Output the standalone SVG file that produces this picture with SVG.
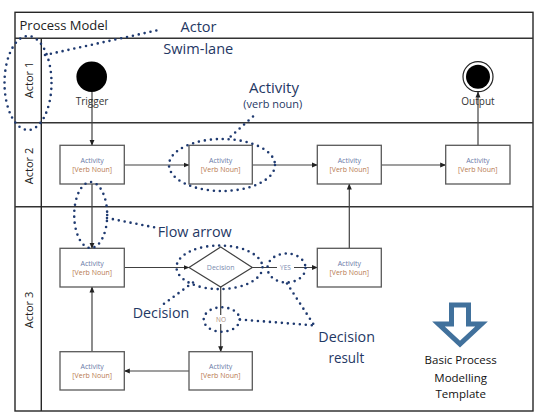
<svg xmlns="http://www.w3.org/2000/svg" width="543" height="419" viewBox="0 0 543 419">
<defs>
<style>
.frame{fill:none;stroke:#262626;stroke-width:1.4}
.lane{fill:none;stroke:#333;stroke-width:1.6}
.box{fill:#fff;stroke:#595959;stroke-width:1.3}
.conn{fill:none;stroke:#404040;stroke-width:1.2}
.dot{fill:none;stroke:#1F3A70;stroke-width:2.6;stroke-linecap:round;stroke-dasharray:0 6}
.t1{font-family:"Open Sans","Noto Sans",sans-serif;font-size:7px;fill:#6A7AA8;text-anchor:middle}
.t2{font-family:"Open Sans","Noto Sans",sans-serif;font-size:7px;fill:#B87A50;text-anchor:middle}
.ann{font-family:"Open Sans","Noto Sans",sans-serif;font-size:15px;fill:#1F3864}
.lbl{font-family:"Open Sans","Noto Sans",sans-serif;font-size:10px;fill:#333;text-anchor:middle}
.lanet{font-family:"Open Sans","Noto Sans",sans-serif;font-size:11px;fill:#222;text-anchor:middle}
</style>
<marker id="ah" markerWidth="6" markerHeight="6" refX="5.5" refY="3" orient="auto" markerUnits="userSpaceOnUse">
<path d="M0,0.5 L6,3 L0,5.5 Z" fill="#222"/>
</marker>
</defs>
<rect width="543" height="419" fill="#fff"/>
<g id="pool">
<rect class="frame" x="15" y="12.3" width="518" height="398.7"/>
<line class="lane" x1="15" y1="38.3" x2="533" y2="38.3"/>
<line class="lane" x1="15" y1="122.7" x2="533" y2="122.7"/>
<line class="lane" x1="15" y1="206.7" x2="533" y2="206.7"/>
<line class="frame" x1="41.3" y1="38.3" x2="41.3" y2="411"/>
<text x="19.5" y="29.8" style="font-family:'Open Sans','Noto Sans',sans-serif;font-size:13px;fill:#222">Process Model</text>
<text class="lanet" transform="translate(32.5,80) rotate(-90)">Actor 1</text>
<text class="lanet" transform="translate(32.5,166) rotate(-90)">Actor 2</text>
<text class="lanet" transform="translate(32.5,310) rotate(-90)">Actor 3</text>
</g>
<g id="connectors">
<line class="conn" x1="92" y1="92" x2="92" y2="145.3" marker-end="url(#ah)"/>
<line class="conn" x1="124.3" y1="165" x2="189" y2="165" marker-end="url(#ah)"/>
<line class="conn" x1="252.3" y1="165" x2="317.3" y2="165" marker-end="url(#ah)"/>
<line class="conn" x1="381.3" y1="165" x2="445.7" y2="165" marker-end="url(#ah)"/>
<line class="conn" x1="478" y1="145.3" x2="478" y2="92" marker-end="url(#ah)"/>
<line class="conn" x1="92" y1="184" x2="92" y2="248.3" marker-end="url(#ah)"/>
<line class="conn" x1="124.3" y1="267.5" x2="189" y2="267.5" marker-end="url(#ah)"/>
<line class="conn" x1="252.3" y1="267.5" x2="317.3" y2="267.5" marker-end="url(#ah)"/>
<line class="conn" x1="349.3" y1="248.3" x2="349.3" y2="184" marker-end="url(#ah)"/>
<line class="conn" x1="220.7" y1="287" x2="220.7" y2="351.7" marker-end="url(#ah)"/>
<line class="conn" x1="189" y1="371" x2="124.3" y2="371" marker-end="url(#ah)"/>
<line class="conn" x1="92" y1="351.7" x2="92" y2="287" marker-end="url(#ah)"/>
<rect x="277" y="263" width="17" height="9" fill="#fff"/>
<text x="285.5" y="270" style="font-family:'Open Sans','Noto Sans',sans-serif;font-size:6.5px;fill:#7A8AAE;text-anchor:middle">YES</text>
<rect x="214" y="315" width="14" height="9" fill="#fff"/>
<text x="221" y="322" style="font-family:'Open Sans','Noto Sans',sans-serif;font-size:6.5px;fill:#A88A7A;text-anchor:middle">NO</text>
</g>
<g id="trigger">
<circle cx="91.7" cy="76.7" r="15.3" fill="#000"/>
<text class="lbl" x="92" y="105">Trigger</text>
</g>
<g id="output">
<circle cx="478" cy="76.7" r="15" fill="#fff" stroke="#222" stroke-width="1.2"/>
<circle cx="478" cy="76.7" r="12" fill="#000"/>
<text class="lbl" x="478" y="105.3">Output</text>
</g>
<g id="a2-1"><rect class="box" x="60" y="145.3" width="64.3" height="38.7"/><text class="t1" x="92.2" y="162.5">Activity</text><text class="t2" x="92.2" y="172">[Verb Noun]</text></g>
<g id="a2-2"><rect class="box" x="189" y="145.3" width="63.3" height="38.7"/><text class="t1" x="220.7" y="162.5">Activity</text><text class="t2" x="220.7" y="172">[Verb Noun]</text></g>
<g id="a2-3"><rect class="box" x="317.3" y="145.3" width="64" height="38.7"/><text class="t1" x="349.3" y="162.5">Activity</text><text class="t2" x="349.3" y="172">[Verb Noun]</text></g>
<g id="a2-4"><rect class="box" x="445.7" y="145.3" width="64.3" height="38.7"/><text class="t1" x="477.8" y="162.5">Activity</text><text class="t2" x="477.8" y="172">[Verb Noun]</text></g>
<g id="a3-1"><rect class="box" x="60" y="248.3" width="64.3" height="38.7"/><text class="t1" x="92.2" y="265.5">Activity</text><text class="t2" x="92.2" y="275">[Verb Noun]</text></g>
<g id="decision"><polygon points="220.7,247 252.3,267.5 220.7,287 189,267.5" fill="#fff" stroke="#404040" stroke-width="1.2"/><text x="220.7" y="270" style="font-family:'Open Sans','Noto Sans',sans-serif;font-size:7px;fill:#7A8AAE;text-anchor:middle">Decision</text></g>
<g id="a3-2"><rect class="box" x="317.3" y="248.3" width="64" height="38.7"/><text class="t1" x="349.3" y="265.5">Activity</text><text class="t2" x="349.3" y="275">[Verb Noun]</text></g>
<g id="a3-3"><rect class="box" x="60" y="351.7" width="64.3" height="38.3"/><text class="t1" x="92.2" y="368.5">Activity</text><text class="t2" x="92.2" y="378">[Verb Noun]</text></g>
<g id="a3-4"><rect class="box" x="189" y="351.7" width="63.3" height="38.3"/><text class="t1" x="220.7" y="368.5">Activity</text><text class="t2" x="220.7" y="378">[Verb Noun]</text></g>
<g id="annotations">
<ellipse class="dot" cx="28" cy="83" rx="23.5" ry="47"/>
<line class="dot" x1="45" y1="55" x2="161" y2="29.5"/>
<text class="ann" x="180.5" y="32.3" textLength="36" lengthAdjust="spacingAndGlyphs">Actor</text>
<text class="ann" x="163.3" y="54" textLength="70" lengthAdjust="spacingAndGlyphs">Swim-lane</text>
<text class="ann" x="249" y="92.7" textLength="50" lengthAdjust="spacingAndGlyphs">Activity</text>
<text class="ann" x="243.3" y="108.3" style="font-size:10.5px" textLength="59" lengthAdjust="spacingAndGlyphs">(verb noun)</text>
<line class="dot" x1="253" y1="116.5" x2="228" y2="139"/>
<ellipse class="dot" cx="222" cy="165" rx="53" ry="26"/>
<ellipse class="dot" cx="90.7" cy="215" rx="16.5" ry="33"/>
<line class="dot" x1="107" y1="218" x2="155" y2="227.5"/>
<text class="ann" x="157.7" y="236.7" textLength="74" lengthAdjust="spacingAndGlyphs">Flow arrow</text>
<ellipse class="dot" cx="219.5" cy="267.3" rx="43" ry="21.8"/>
<ellipse class="dot" cx="286.5" cy="268" rx="19" ry="14.5"/>
<ellipse class="dot" cx="221.7" cy="319.5" rx="18" ry="12.2"/>
<line class="dot" x1="193" y1="282.5" x2="161" y2="306"/>
<text class="ann" x="132.7" y="318.3" textLength="56.6" lengthAdjust="spacingAndGlyphs">Decision</text>
<line class="dot" x1="287" y1="283.5" x2="315" y2="326.5"/>
<line class="dot" x1="240" y1="319.5" x2="315" y2="325.5"/>
<text class="ann" x="318.3" y="341.7" textLength="56.7" lengthAdjust="spacingAndGlyphs">Decision</text>
<text class="ann" x="328.5" y="362.7" textLength="35.7" lengthAdjust="spacingAndGlyphs">result</text>
</g>
<g id="template">
<path d="M451.5,305 L468.5,305 L468.5,324 L481.5,324 L460,344 L438.5,324 L451.5,324 Z" fill="#fff" stroke="#41719C" stroke-width="5" stroke-linejoin="miter"/>
<text x="460.7" y="364" style="font-family:'Open Sans','Noto Sans',sans-serif;font-size:11.5px;fill:#111;text-anchor:middle">Basic Process</text>
<text x="460.7" y="381.5" style="font-family:'Open Sans','Noto Sans',sans-serif;font-size:11.5px;fill:#111;text-anchor:middle">Modelling</text>
<text x="460.7" y="398" style="font-family:'Open Sans','Noto Sans',sans-serif;font-size:11.5px;fill:#111;text-anchor:middle">Template</text>
</g>
</svg>
